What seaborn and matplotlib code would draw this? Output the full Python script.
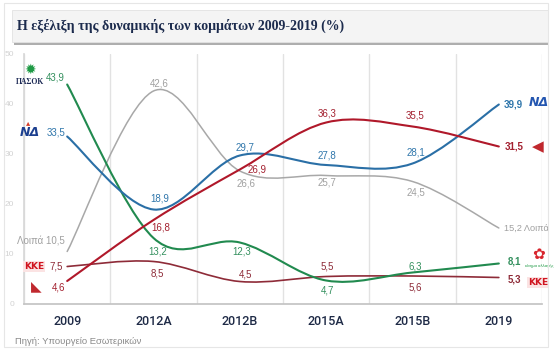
# Η εξέλιξη της δυναμικής των κομμάτων 2009-2019

import numpy as np
import pandas as pd
import matplotlib
matplotlib.use("Agg")
import matplotlib.pyplot as plt
from matplotlib.path import Path
from matplotlib.patches import PathPatch, Rectangle
import seaborn as sns

# data
years = ["2009", "2012A", "2012B", "2015A", "2015B", "2019"]
pasok = [43.9, 13.2, 12.3, 4.7, 6.3, 8.1]
nd = [33.5, 18.9, 29.7, 27.8, 28.1, 39.9]
syriza = [4.6, 16.8, 26.9, 36.3, 35.5, 31.5]
loipa = [10.5, 42.6, 26.6, 25.7, 24.5, 15.2]
kke = [7.5, 8.5, 4.5, 5.5, 5.6, 5.3]

df = pd.DataFrame({"year": years, "ΠΑΣΟΚ": pasok, "ΝΔ": nd,
                   "ΣΥΡΙΖΑ": syriza, "Λοιπά": loipa, "ΚΚΕ": kke})

sns.set_theme(style="white")
plt.rcParams["font.family"] = ["Liberation Sans", "DejaVu Sans"]

# line colour, label colour, line width, label offsets (pixels) for middle points
styles = {
    "Λοιπά": ("#a8a8a8", "#a0a0a0", 1.1, [(6, 8), (6, -13), (1, -7), (3, -11)]),
    "ΚΚΕ": ("#8e2b38", "#8e2b38", 1.2, [(4, -12), (6, 7), (1, 10), (3, -11)]),
    "ΠΑΣΟΚ": ("#218a4f", "#34905e", 1.5, [(4, -13), (2, -9), (1, -10), (3, 6)]),
    "ΝΔ": ("#2a6fa6", "#2f76ab", 1.5, [(6, 11), (5, 8), (1, 9), (3, 11)]),
    "ΣΥΡΙΖΑ": ("#b0182a", "#a3202f", 1.5, [(7, -7), (17, 0), (1, 9), (3, 11)]),
}
# first / last point label offsets
first_off = {"ΠΑΣΟΚ": (-2, 7), "ΝΔ": (-2, 4), "Λοιπά": (-2, 10), "ΚΚΕ": (-4, 0), "ΣΥΡΙΖΑ": (-2, -6)}
last_off = {"ΠΑΣΟΚ": (9, 2), "ΝΔ": (5, 0), "Λοιπά": (5, 0), "ΚΚΕ": (9, -2), "ΣΥΡΙΖΑ": (6, 0)}


def fmt(v):
    return f"{v:.1f}".replace(".", ",")


def smooth_path(xs, ys):
    pts = np.column_stack([xs, ys]).astype(float)
    n = len(pts)
    verts, codes = [pts[0]], [Path.MOVETO]
    for i in range(n - 1):
        p0 = pts[max(i - 1, 0)]
        p1 = pts[i]
        p2 = pts[i + 1]
        p3 = pts[min(i + 2, n - 1)]
        verts += [p1 + (p2 - p0) / 6, p2 - (p3 - p1) / 6, p2]
        codes += [Path.CURVE4] * 3
    return Path(verts, codes)


fig = plt.figure(figsize=(5.58, 3.5), dpi=100)
ax = fig.add_axes([24 / 558, 1 - 304 / 350, 518 / 558, 250 / 350])

x = np.arange(len(years))
for name, (lc, tc, lw, offs) in styles.items():
    vals = df[name].values
    ax.add_patch(PathPatch(smooth_path(x, vals), fill=False, edgecolor=lc,
                           linewidth=lw, capstyle="round", zorder=3))
    for i in range(1, len(years) - 1):
        ax.annotate(fmt(vals[i]), (x[i], vals[i]), xytext=offs[i - 1],
                    textcoords="offset pixels", ha="center", va="center",
                    color=tc, fontsize=7, zorder=5)
    t0 = fmt(vals[0]) if name != "Λοιπά" else "Λοιπά " + fmt(vals[0])
    ax.annotate(t0, (x[0], vals[0]), xytext=first_off[name], textcoords="offset pixels",
                ha="right", va="center", color=tc, fontsize=7, annotation_clip=False)
    if name == "Λοιπά":
        t1, w, fs = fmt(vals[-1]) + " Λοιπά", "normal", 6.6
    else:
        t1, w, fs = fmt(vals[-1]), "bold", 7
    ax.annotate(t1, (x[-1], vals[-1]), xytext=last_off[name], textcoords="offset pixels",
                ha="left", va="center", color=tc, fontsize=fs, fontweight=w,
                annotation_clip=False)

# party logos (approximate, as text)
def logo(txt, name, idx, off, **kw):
    ax.annotate(txt, (x[idx], df[name].values[idx]), xytext=off, textcoords="offset pixels",
                ha="center", va="center", annotation_clip=False, **kw)

logo("✹", "ΠΑΣΟΚ", 0, (-37, 15), color="#1f9a45", fontsize=10, family="DejaVu Sans")
logo("ΠΑΣΟΚ", "ΠΑΣΟΚ", 0, (-37, 2), color="#1d2a55", fontsize=5.5,
     fontweight="bold", family="Liberation Serif")
logo("ΝΔ", "ΝΔ", 0, (-37, 4), color="#1c3f8f", fontsize=9, fontweight="bold",
     style="italic", family="DejaVu Sans")
logo("▴", "ΝΔ", 0, (-39, 14), color="#d8402a", fontsize=6, family="DejaVu Sans")
logo("ΚΚΕ", "ΚΚΕ", 0, (-33, 0), color="#d0141f", fontsize=6.5, fontweight="bold",
     family="DejaVu Sans", bbox=dict(boxstyle="square,pad=0.1", fc="#fbe3e3", ec="none"))
logo("◣", "ΣΥΡΙΖΑ", 0, (-31, -5), color="#c0282e", fontsize=10, family="DejaVu Sans")
logo("ΝΔ", "ΝΔ", 5, (40, 2), color="#2456b0", fontsize=9, fontweight="bold",
     style="italic", family="DejaVu Sans")
logo("◀", "ΣΥΡΙΖΑ", 5, (39, 0), color="#c0282e", fontsize=11, family="DejaVu Sans")
logo("✿", "ΠΑΣΟΚ", 5, (40, 9), color="#d8262e", fontsize=11, family="DejaVu Sans")
logo("κίνημα αλλαγής", "ΠΑΣΟΚ", 5, (40, -2), color="#1f9a45", fontsize=3)
logo("ΚΚΕ", "ΚΚΕ", 5, (39, -5), color="#d0141f", fontsize=6.5, fontweight="bold",
     family="DejaVu Sans", bbox=dict(boxstyle="square,pad=0.1", fc="#fbe3e3", ec="none"))

# axes styling
ax.set_xlim(-0.5, len(years) - 0.5)
ax.set_ylim(0, 50)
ax.set_xticks(x)
ax.set_xticklabels(years)
ax.set_xticks(np.arange(len(years) + 1) - 0.5, minor=True)
ax.set_yticks(np.arange(0, 51, 10))
ax.grid(which="minor", axis="x", color="#e2e2e2", linewidth=1)
ax.grid(which="major", visible=False)
ax.tick_params(axis="x", which="both", length=0, pad=8)
ax.tick_params(axis="y", length=0, pad=7, labelsize=6, labelcolor="#d2d2d2")
for lab in ax.get_xticklabels():
    lab.set_family(["Roboto", "Liberation Sans"])
    lab.set_fontweight("medium")
    lab.set_fontsize(9)
    lab.set_color("#1e2a46")
sns.despine(ax=ax, top=True, right=True)
ax.spines["left"].set_color("#d8d8d8")
ax.spines["bottom"].set_color("#c4c4c4")
ax.set_facecolor("white")

# title bar with shadow
fig.patches.append(Rectangle((14 / 558, 1 - 45 / 350), 535 / 558, 32 / 350,
                             transform=fig.transFigure, fc="#8c8c8c", ec="none", alpha=0.7))
fig.patches.append(Rectangle((12 / 558, 1 - 42 / 350), 536 / 558, 32 / 350,
                             transform=fig.transFigure, fc="#f4f4f4", ec="#e2e2e2", lw=0.6))
fig.text(17 / 558, 1 - 26 / 350, "Η εξέλιξη της δυναμικής των κομμάτων 2009-2019 (%)",
         family=["Liberation Serif", "DejaVu Serif"], fontweight="bold", fontsize=10,
         color="#1c2b4d", va="center", ha="left")

# outer frame and source
fig.patches.append(Rectangle((4 / 558, 1 - 347 / 350), 544 / 558, 344 / 350,
                             transform=fig.transFigure, fc="none", ec="#e6e6e6", lw=0.8))
fig.text(15 / 558, 1 - 342 / 350, "Πηγή: Υπουργείο Εσωτερικών", color="#8a8a8a",
         fontsize=6.8, va="center", ha="left")

fig.savefig("out.png", dpi=100)
